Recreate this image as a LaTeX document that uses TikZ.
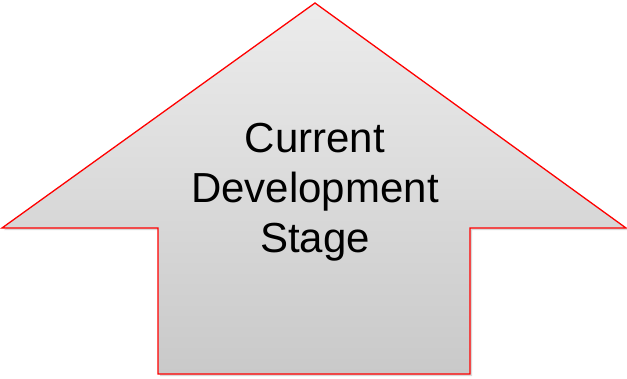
\documentclass[tikz,border=0pt]{standalone}
\usepackage{fontspec}
\setmainfont{Liberation Sans}
\usetikzlibrary{positioning,shadows}

\definecolor{arrowtop}{HTML}{ECECEC}
\definecolor{arrowbot}{HTML}{C9C9C9}

\begin{document}
\begin{tikzpicture}[
    x=1pt, y=-1pt,
    arrowbox/.style={draw=red, line width=1.3pt, line join=miter,
      top color=arrowtop, bottom color=arrowbot,
      drop shadow={shadow xshift=2pt, shadow yshift=-2pt, opacity=0.3}},
    stagetext/.style={align=center, inner sep=0pt,
      font=\fontsize{42}{50}\selectfont}]

    \useasboundingbox (0,0) rectangle (627,378);

    % corners

    \coordinate (tip) at (315,3);
    \coordinate (wl) at (2,228);
    \coordinate (sl) at (158,228);
    \coordinate (bl) at (158,374);
    \coordinate (br) at (470,374);
    \coordinate (sr) at (470,228);
    \coordinate (wr) at (626,228);

    % arrow

    \path[arrowbox] (tip) -- (wr) -- (sr) -- (br) -- (bl) -- (sl) -- (wl) -- cycle;

    % label

    \node[stagetext] (stage) at (315,192) {Current\\Development\\Stage};
\end{tikzpicture}
\end{document}
